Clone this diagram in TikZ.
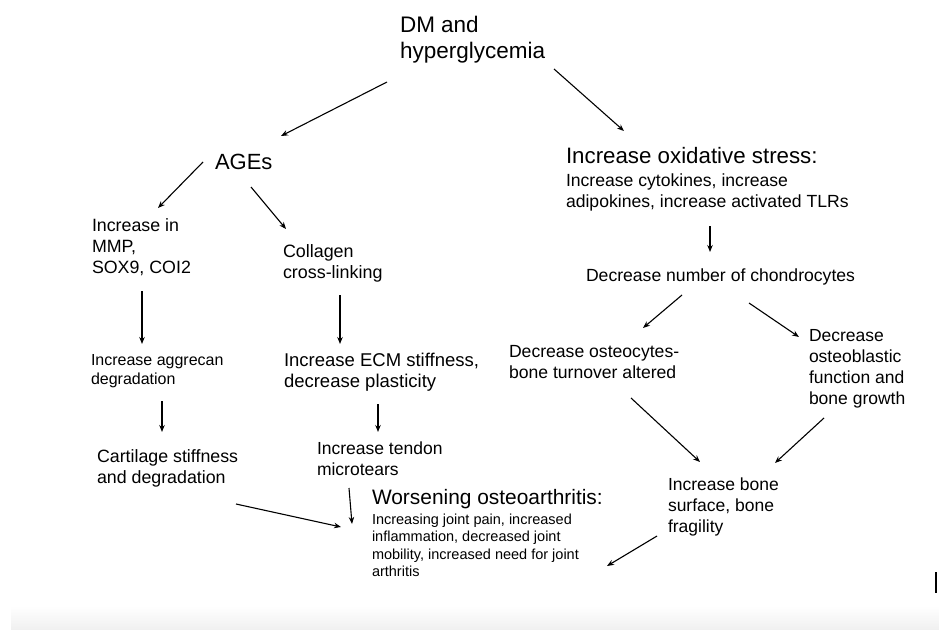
\documentclass[tikz,border=0pt]{standalone}
\usepackage{fontspec}
\setmainfont{Liberation Sans}
\usetikzlibrary{arrows.meta}
\newcommand\mlines[1]{\vtop{\let\\\cr\halign{##\hfil\cr #1\crcr}}}
\newcommand\fs[2]{\fontsize{#1}{#2}\selectfont}
\tikzset{
  txt/.style={anchor=base west, inner sep=0pt, outer sep=0pt, text=black},
  arr/.style={draw=black, line width=1.1pt, -{Stealth[length=7pt,width=5.5pt]}},
}
\begin{document}
\begin{tikzpicture}[x=1pt,y=-1pt]
\useasboundingbox[fill=white] (0,0) rectangle (939,629);
\shade[top color=white, bottom color={rgb,255:red,240;green,240;blue,240}] (11,606) rectangle (939,629);
\fill[black] (935,572) rectangle (937,593);

% nodes
\node[txt, font=\fs{22.5}{26}] (dm) at (400,32) {\mlines{DM and\\hyperglycemia}};
\node[txt, font=\fs{22}{26}] (ages) at (215,169) {AGEs};
\node[txt, font=\fs{22.3}{24}] (ox) at (566,163) {Increase oxidative stress:};
\node[txt, font=\fs{17.6}{21}] (oxsub) at (566,186) {\mlines{Increase cytokines, increase\\adipokines, increase activated TLRs}};
\node[txt, font=\fs{17.8}{21.3}] (mmp) at (92,231) {\mlines{Increase in\\MMP,\\SOX9, COI2}};
\node[txt, font=\fs{17.9}{21.3}] (coll) at (283,257) {\mlines{Collagen\\cross-linking}};
\node[txt, font=\fs{17.6}{21}] (chond) at (586,281) {Decrease number of chondrocytes};
\node[txt, font=\fs{16}{19.5}] (aggr) at (91,365) {\mlines{Increase aggrecan\\degradation}};
\node[txt, font=\fs{18.5}{21.3}] (ecm) at (284,366) {\mlines{Increase ECM stiffness,\\decrease plasticity}};
\node[txt, font=\fs{17.6}{21}] (osteocy) at (509,357) {\mlines{Decrease osteocytes-\\bone turnover altered}};
\node[txt, font=\fs{17.5}{21.3}] (osteobl) at (809,341) {\mlines{Decrease\\osteoblastic\\function and\\bone growth}};
\node[txt, font=\fs{17.8}{21.3}] (cart) at (97,462) {\mlines{Cartilage stiffness\\and degradation}};
\node[txt, font=\fs{17.5}{21}] (tendon) at (317,454) {\mlines{Increase tendon\\microtears}};
\node[txt, font=\fs{17.5}{21}] (bone) at (668,490) {\mlines{Increase bone\\surface, bone\\fragility}};
\node[txt, font=\fs{20.9}{24}] (worse) at (372,504) {Worsening osteoarthritis:};
\node[txt, font=\fs{14.5}{17.6}] (worsesub) at (372,524) {\mlines{Increasing joint pain, increased\\inflammation, decreased joint\\mobility, increased need for joint\\arthritis}};

% arrow end points
\coordinate (dmL) at (387,82);   \coordinate (agesT) at (281,136);
\coordinate (dmR) at (554,69);   \coordinate (oxT) at (624,131);
\coordinate (agesL) at (203,162); \coordinate (mmpT) at (158,208);
\coordinate (agesR) at (251,187); \coordinate (collT) at (286,229);
\coordinate (mmpB) at (142,291); \coordinate (aggrT) at (142,344);
\coordinate (collB) at (340,295); \coordinate (ecmT) at (340,344);
\coordinate (aggrB) at (162,401); \coordinate (cartT) at (162,432);
\coordinate (ecmB) at (378,404); \coordinate (tendT) at (378,432);
\coordinate (tendB) at (349,488); \coordinate (worseT) at (352,524);
\coordinate (cartB) at (236,504); \coordinate (worseL) at (341,527);
\coordinate (oxB) at (710,226); \coordinate (chondT) at (710,252);
\coordinate (chondL) at (682,295); \coordinate (osteocyT) at (643,328);
\coordinate (chondR) at (749,303); \coordinate (osteoblT) at (799,337);
\coordinate (osteocyB) at (631,398); \coordinate (boneL) at (700,462);
\coordinate (osteoblB) at (824,418); \coordinate (boneR) at (775,463);
\coordinate (boneB) at (657,536); \coordinate (worseR) at (607,566);

\draw[arr] (dmL) -- (agesT);
\draw[arr] (dmR) -- (oxT);
\draw[arr] (agesL) -- (mmpT);
\draw[arr] (agesR) -- (collT);
\draw[arr] (mmpB) -- (aggrT);
\draw[arr] (collB) -- (ecmT);
\draw[arr] (aggrB) -- (cartT);
\draw[arr] (ecmB) -- (tendT);
\draw[arr] (tendB) -- (worseT);
\draw[arr] (cartB) -- (worseL);
\draw[arr] (oxB) -- (chondT);
\draw[arr] (chondL) -- (osteocyT);
\draw[arr] (chondR) -- (osteoblT);
\draw[arr] (osteocyB) -- (boneL);
\draw[arr] (osteoblB) -- (boneR);
\draw[arr] (boneB) -- (worseR);
\end{tikzpicture}
\end{document}
